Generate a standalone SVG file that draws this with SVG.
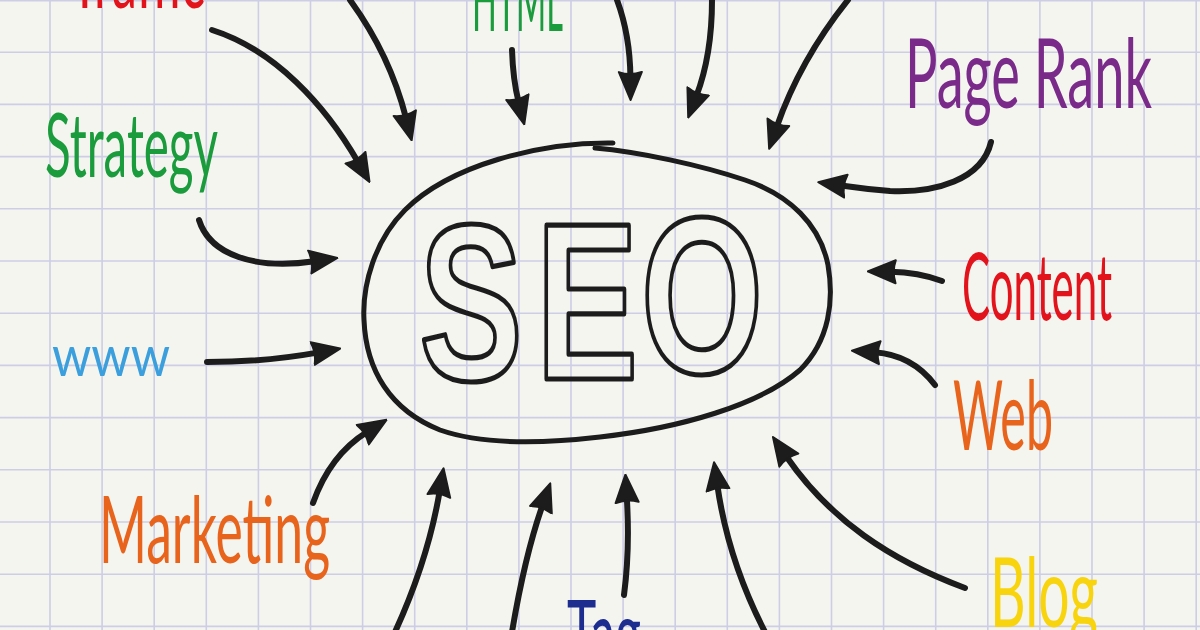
<svg xmlns="http://www.w3.org/2000/svg" width="1200" height="630" viewBox="0 0 1200 630">
<style>
.grid{stroke:#cdcde6;stroke-width:1.6;fill:none}
.conn{fill:none;stroke:#1c1c1c;stroke-width:6;stroke-linecap:round;marker-end:url(#ah)}
.lbl{font-family:Lato,"Open Sans",Roboto,"Liberation Sans",sans-serif;font-weight:400;font-size:88px}
.seo{font-family:"Liberation Sans",Arial,sans-serif;font-weight:bold;font-size:222px;fill:none;stroke:#1c1c1c;stroke-width:4.5;stroke-linejoin:round;text-anchor:middle}
</style>
<defs>
<marker id="ah" viewBox="0 0 30 26" refX="6" refY="13" markerWidth="30" markerHeight="26" markerUnits="userSpaceOnUse" orient="auto">
<path d="M1,1.5 L29,13 L1,24.5 Q5,13 1,1.5 Z" fill="#1c1c1c" stroke="#1c1c1c" stroke-width="2" stroke-linejoin="round"/>
</marker>
</defs>
<rect width="1200" height="630" fill="#f5f5f0"/>
<path class="grid" d="M50 0V630M102.1 0V630M154.2 0V630M206.3 0V630M258.4 0V630M310.5 0V630M362.6 0V630M414.7 0V630M466.8 0V630M518.9 0V630M571 0V630M623.1 0V630M675.2 0V630M727.3 0V630M779.4 0V630M831.5 0V630M883.6 0V630M935.7 0V630M987.8 0V630M1039.9 0V630M1092 0V630M1144.1 0V630M1196.2 0V630M0 0.8H1200M0 52.2H1200M0 104.4H1200M0 156.6H1200M0 208.8H1200M0 261H1200M0 313.2H1200M0 365.4H1200M0 417.6H1200M0 469.8H1200M0 522H1200M0 574.2H1200M0 626.4H1200"/>

<g id="connectors">
<path class="conn" d="M212 30 C275 50 325 105 358 162"/>
<path class="conn" d="M350 0 Q390 55 406 118"/>
<path class="conn" d="M512 50 Q513 80 518.6 102"/>
<path class="conn" d="M617 0 Q630 35 630.4 77"/>
<path class="conn" d="M712 0 Q712 55 696.4 96"/>
<path class="conn" d="M848 0 Q800 60 776.7 127"/>
<path class="conn" d="M991 142 C982 180 935 193 890 191 Q865 189 841 185.5"/>
<path class="conn" d="M942 281 Q918 272 890.7 271.7"/>
<path class="conn" d="M935 385 Q912 355 874.8 352.3"/>
<path class="conn" d="M965 588 C890 560 830 520 786 456"/>
<path class="conn" d="M395 632 Q428 560 439.7 491"/>
<path class="conn" d="M512 632 Q525 555 542.6 505"/>
<path class="conn" d="M624 595 Q630 550 626.8 497.5"/>
<path class="conn" d="M765 632 Q728 560 717.3 485"/>
<path class="conn" d="M199 220 C210 255 255 270 314.7 261.3"/>
<path class="conn" d="M207 362 Q265 362 317.5 352.6"/>
<path class="conn" d="M313 503 Q330 455 367 432"/>
</g>

<g id="seo">
<path d="M613 143 C540 142 450 165 405 210 C375 240 362 285 364 320 C366 370 390 410 440 430 C480 444 540 444 600 437 C680 428 760 405 800 370 C830 340 834 300 828 265 C820 225 790 195 745 180 C700 165 640 152 595 148" fill="none" stroke="#1c1c1c" stroke-width="5" stroke-linecap="round"/>
<text class="seo" transform="translate(471,380) scale(0.7,1)" vector-effect="non-scaling-stroke">S</text>
<text class="seo" transform="translate(587,379) scale(0.69,1)" vector-effect="non-scaling-stroke">E</text>
<text class="seo" transform="translate(702,373) scale(0.71,1)" vector-effect="non-scaling-stroke">O</text>
</g>

<g id="traffic"><text class="lbl" x="70" y="8" fill="#e3131b" textLength="135" lengthAdjust="spacingAndGlyphs">Traffic</text></g>
<g id="html"><text class="lbl" x="472" y="31" fill="#1a9b3c" textLength="91" lengthAdjust="spacingAndGlyphs">HTML</text></g>
<g id="pagerank"><text class="lbl" x="905" y="108" fill="#7a2b8a" style="font-size:96px" textLength="247" lengthAdjust="spacingAndGlyphs">Page Rank</text></g>
<g id="strategy"><text class="lbl" x="45" y="177" fill="#1a9b3c" style="font-size:90px" textLength="173" lengthAdjust="spacingAndGlyphs">Strategy</text></g>
<g id="content"><text class="lbl" x="962" y="320" fill="#e3131b" style="font-size:94px" textLength="150" lengthAdjust="spacingAndGlyphs">Content</text></g>
<g id="www"><text class="lbl" x="52" y="376" fill="#3a9fdc" style="font-size:56px" textLength="118" lengthAdjust="spacingAndGlyphs">www</text></g>
<g id="web"><text class="lbl" x="953" y="450" fill="#e8641c" style="font-size:96px" textLength="100" lengthAdjust="spacingAndGlyphs">Web</text></g>
<g id="marketing"><text class="lbl" x="99" y="563" fill="#e8641c" style="font-size:94px" textLength="231" lengthAdjust="spacingAndGlyphs">Marketing</text></g>
<g id="tag"><text class="lbl" x="567" y="667" fill="#1d2c8f" style="font-size:94px" textLength="74" lengthAdjust="spacingAndGlyphs">Tag</text></g>
<g id="blog"><text class="lbl" x="990" y="627" fill="#f8d40f" style="font-size:96px" textLength="108" lengthAdjust="spacingAndGlyphs">Blog</text></g>
</svg>
